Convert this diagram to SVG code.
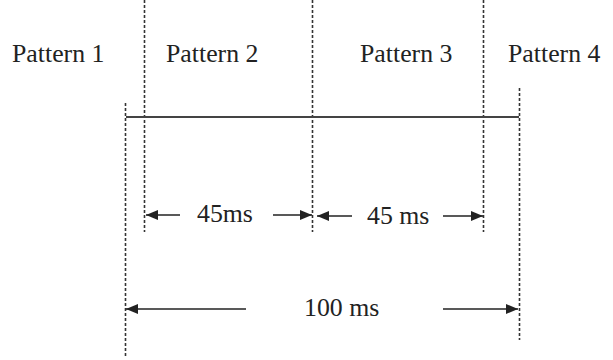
<svg xmlns="http://www.w3.org/2000/svg" width="613" height="360" viewBox="0 0 613 360">
  <style>
    .lbl { font-family: "Liberation Serif", "Times New Roman", serif; font-size: 25.8px; fill: #222; }
    .guide { stroke: #333; stroke-width: 1.6; stroke-dasharray: 3 2; fill: none; }
    .axis { stroke: #444; stroke-width: 1.8; fill: none; }
    .dim { stroke: #222; stroke-width: 1.6; fill: none; marker-end: url(#head); }
  </style>
  <defs>
    <marker id="head" viewBox="0 0 12 10" refX="12" refY="5" markerWidth="12" markerHeight="10" markerUnits="userSpaceOnUse" orient="auto">
      <path d="M0,0 L12,5 L0,10 Z" fill="#222"/>
    </marker>
  </defs>
  <rect width="613" height="360" fill="#fff"/>

  <!-- pattern boundaries -->
  <g id="boundaries">
    <line class="guide" x1="144.5" y1="0" x2="144.5" y2="232"/>
    <line class="guide" x1="312.5" y1="0" x2="312.5" y2="232"/>
    <line class="guide" x1="483.5" y1="0" x2="483.5" y2="232"/>
    <line class="guide" x1="125.5" y1="103" x2="125.5" y2="356"/>
    <line class="guide" x1="519.5" y1="88" x2="519.5" y2="340"/>
  </g>

  <!-- time axis -->
  <g id="axis">
    <line class="axis" x1="126" y1="117" x2="519" y2="117"/>
  </g>

  <!-- pattern labels -->
  <g id="pattern1"><text class="lbl" x="12" y="62">Pattern 1</text></g>
  <g id="pattern2"><text class="lbl" x="166" y="62">Pattern 2</text></g>
  <g id="pattern3"><text class="lbl" x="360" y="62">Pattern 3</text></g>
  <g id="pattern4"><text class="lbl" x="508" y="62">Pattern 4</text></g>

  <!-- duration labels -->
  <g id="dur45a"><text class="lbl" x="197" y="222">45ms</text></g>
  <g id="dur45b"><text class="lbl" x="367" y="224">45 ms</text></g>
  <g id="dur100"><text class="lbl" x="304" y="316">100 ms</text></g>

  <!-- dimension arrows -->
  <g id="connectors">
    <line class="dim" x1="180" y1="215" x2="146" y2="215"/>
    <line class="dim" x1="273" y1="215" x2="312" y2="215"/>
    <line class="dim" x1="352" y1="216" x2="317" y2="216"/>
    <line class="dim" x1="443" y1="216" x2="483" y2="216"/>
    <line class="dim" x1="246" y1="309" x2="126" y2="309"/>
    <line class="dim" x1="443" y1="309" x2="518" y2="309"/>
  </g>
</svg>
